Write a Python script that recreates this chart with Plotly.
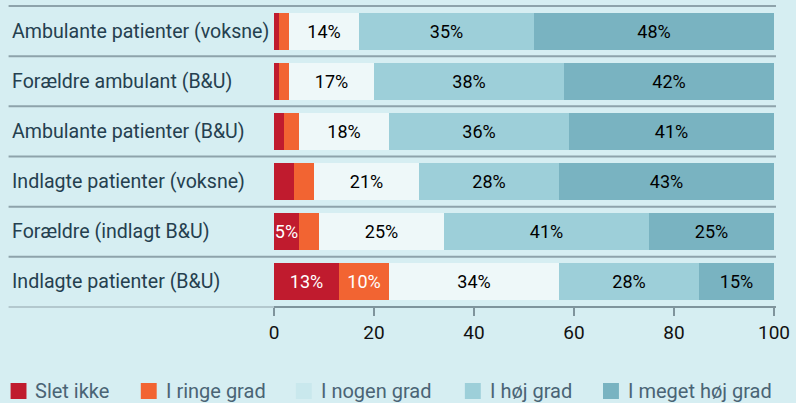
import plotly.graph_objects as go

categories = [
    "Ambulante patienter (voksne)",
    "Forældre ambulant (B&U)",
    "Ambulante patienter (B&U)",
    "Indlagte patienter (voksne)",
    "Forældre (indlagt B&U)",
    "Indlagte patienter (B&U)",
]
series_names = ["Slet ikke", "I ringe grad", "I nogen grad", "I høj grad", "I meget høj grad"]
slet_ikke = [1, 1, 2, 4, 5, 13]
i_ringe_grad = [2, 2, 3, 4, 4, 10]
i_nogen_grad = [14, 17, 18, 21, 25, 34]
i_hoej_grad = [35, 38, 36, 28, 41, 28]
i_meget_hoej_grad = [48, 42, 41, 43, 25, 15]
x_ticks = [0, 20, 40, 60, 80, 100]

values = [slet_ikke, i_ringe_grad, i_nogen_grad, i_hoej_grad, i_meget_hoej_grad]
bar_colors = ["#c01b2e", "#f26432", "#eef8f9", "#9dcfd9", "#79b3c1"]
legend_colors = ["#c01b2e", "#f26432", "#c9e8ed", "#9dcfd9", "#79b3c1"]
text_colors = ["white", "white", "black", "black", "black"]
legend_swatch_px = [9, 140, 296, 466, 605]   # layout: left edge of each legend swatch

FONT = "Roboto, sans-serif"
BG = "#d6eef2"

fig = go.Figure()
for name, vals, col, tcol in zip(series_names, values, bar_colors, text_colors):
    fig.add_trace(go.Bar(
        y=categories, x=vals, name=name, orientation="h",
        marker=dict(color=col, line=dict(width=0)),
        text=[f"{v}%" if v >= 5 else "" for v in vals],
        textposition="inside", insidetextanchor="middle", textangle=0,
        constraintext="none",
        textfont=dict(family=FONT, size=18, color=tcol),
        showlegend=False, hoverinfo="skip",
    ))

W, H = 796, 403
ml, mr, mt, mb = 274, 19, 6, 96
pw = W - ml - mr
ph = H - mt - mb

def px_to_paper_x(px):
    return (px - ml) / pw

def py_to_paper_y(py):
    return (H - mb - py) / ph

shapes = []
n = len(categories)
for i in range(n):
    yy = 1 - i / n
    shapes.append(dict(type="line", xref="paper", yref="paper",
                       x0=px_to_paper_x(7), x1=px_to_paper_x(779), y0=yy, y1=yy,
                       line=dict(color="#8ea3ab", width=2)))
# bottom axis line (faint on the left, darker under the plot)
shapes.append(dict(type="line", xref="paper", yref="paper",
                   x0=px_to_paper_x(7), x1=0, y0=0, y1=0,
                   line=dict(color="#b3c8ce", width=2)))
shapes.append(dict(type="line", xref="paper", yref="paper",
                   x0=0, x1=px_to_paper_x(779), y0=0, y1=0,
                   line=dict(color="#7f949c", width=2)))

annotations = []
for c in categories:
    annotations.append(dict(text=c, xref="paper", yref="y", x=px_to_paper_x(8), y=c,
                            xanchor="left", yanchor="middle", showarrow=False,
                            font=dict(family=FONT, size=19.6, color="#25404f")))

# manual legend
ly = 391
for name, col, sx in zip(series_names, legend_colors, legend_swatch_px):
    shapes.append(dict(type="rect", xref="paper", yref="paper",
                       x0=px_to_paper_x(sx), x1=px_to_paper_x(sx + 16),
                       y0=py_to_paper_y(ly + 8), y1=py_to_paper_y(ly - 8),
                       fillcolor=col, line=dict(width=0)))
    annotations.append(dict(text=name, xref="paper", yref="paper",
                            x=px_to_paper_x(sx + 23), y=py_to_paper_y(ly),
                            xanchor="left", yanchor="middle", showarrow=False,
                            font=dict(family=FONT, size=20, color="#4a6475")))

fig.update_layout(
    width=W, height=H, barmode="stack", bargap=0.26,
    paper_bgcolor=BG, plot_bgcolor=BG,
    margin=dict(l=ml, r=mr, t=mt, b=mb),
    font=dict(family=FONT),
    showlegend=False,
    xaxis=dict(range=[0, 100], tickvals=x_ticks, ticks="outside", ticklen=8,
               tickcolor="#7f949c", tickwidth=1.5, showgrid=False, zeroline=False,
               tickfont=dict(family=FONT, size=19, color="#111111"), fixedrange=True),
    yaxis=dict(categoryorder="array", categoryarray=categories, autorange="reversed",
               showticklabels=False, showgrid=False, zeroline=False, ticks=""),
    shapes=shapes, annotations=annotations,
)
fig.write_html("out.html", config={"displayModeBar": False},
               post_script="document.body.style.margin='0';document.body.style.overflow='hidden';")
